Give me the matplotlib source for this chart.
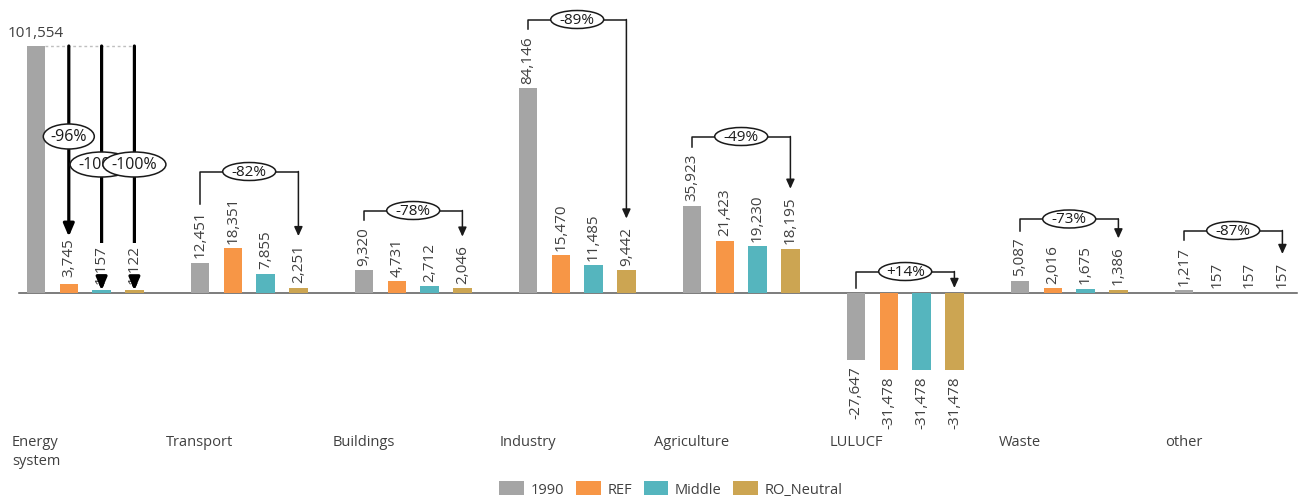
import numpy as np
import matplotlib.pyplot as plt
from matplotlib.patches import Ellipse

plt.rcParams['font.family'] = ['Open Sans', 'DejaVu Sans']

# emissions by sector, 1990 vs 2050 scenarios
categories = ['Energy\nsystem', 'Transport', 'Buildings', 'Industry',
              'Agriculture', 'LULUCF', 'Waste', 'other']
series = ['1990', 'REF', 'Middle', 'RO_Neutral']
v_1990 = [101554, 12451, 9320, 84146, 35923, -27647, 5087, 1217]
v_ref = [3745, 18351, 4731, 15470, 21423, -31478, 2016, 157]
v_middle = [1157, 7855, 2712, 11485, 19230, -31478, 1675, 157]
v_neutral = [1122, 2251, 2046, 9442, 18195, -31478, 1386, 157]
energy_changes = ['-96%', '-100%', '-100%']
sector_changes = ['-82%', '-78%', '-89%', '-49%', '+14%', '-73%', '-87%']

colors = ['#A5A5A5', '#F79646', '#55B5BE', '#CCA552']
txt_col = '#404040'
line_col = '#1a1a1a'

# layout in pixels of the 1299x502 picture
W, H = 1299, 502
zero_px = 294
upp = 101554 / 247.0      # data units per pixel (vertical)
step = 32.8               # pixels per bar slot
x0_px = 36

def py(p):
    return (zero_px - p) * upp

def px(p):
    return (p - x0_px) / step

fig = plt.figure(figsize=(W / 100, H / 100), dpi=100)
ax = fig.add_axes([0, 0, 1, 1])
ax.set_xlim(px(0), px(W))
ax.set_ylim(py(H), py(0))
ax.axis('off')

gap = 5
base = np.arange(len(categories)) * gap
data = [v_1990, v_ref, v_middle, v_neutral]

handles = []
labels = []
for s, vals in enumerate(data):
    b = ax.bar(base + s, vals, width=0.56, color=colors[s], zorder=2)
    handles.append(b)
    row = []
    for g, v in enumerate(vals):
        off = (7.5 if g == 0 and s > 0 else 5.5) * upp
        y = v + off if v >= 0 else v - off
        rot = 0 if (g == 0 and s == 0) else 90
        t = ax.text(base[g] + s, y, f'{v:,}', rotation=rot, ha='center',
                    va='bottom' if v >= 0 else 'top', fontsize=11, color=txt_col,
                    bbox=dict(fc='white', ec='none', pad=0.3), zorder=3)
        row.append(t)
    labels.append(row)

ax.plot([px(19), px(1297)], [0, 0], color='#595959', lw=1.1, zorder=1)

for g, name in enumerate(categories):
    ax.text(base[g], py(435), name, ha='center', va='top', multialignment='left',
            fontsize=10.5, color=txt_col, linespacing=1.35)

fig.legend([h for h in handles], series, loc='center',
           bbox_to_anchor=(671 / W, 1 - 490 / H), ncol=4, frameon=False,
           fontsize=10.5, handlelength=1.7, handleheight=1.15,
           handletextpad=0.45, columnspacing=0.8, labelcolor=txt_col)

fig.canvas.draw()
rend = fig.canvas.get_renderer()
inv = ax.transData.inverted()

def top_of(t):
    bb = t.get_window_extent(rend)
    return inv.transform((0, bb.y1))[1]

# energy system: thick arrows from the 1990 level
e_top = v_1990[0]
ax.plot([0.28, 3], [e_top, e_top], color='#BFBFBF', lw=1, ls=(0, (2, 2)), zorder=1)
thick = dict(arrowstyle='-|>,head_length=0.75,head_width=0.32', lw=2.3,
             color='black', shrinkA=0, shrinkB=0, mutation_scale=10)
tip = top_of(labels[1][0]) + 1 * upp
ax.annotate('', xy=(1, tip), xytext=(1, e_top), arrowprops=thick, zorder=2)
for s in (2, 3):
    v = data[s][0]
    ax.annotate('', xy=(s, v), xytext=(s, e_top), arrowprops=thick, zorder=2)
    ax.annotate('', xy=(s, v), xytext=(s, v + 10 * upp), arrowprops=thick, zorder=4)

e_ell = [(137.5, 51), (165.5, 63), (165.5, 63)]
for s, (ypx, wpx) in enumerate(e_ell):
    ax.add_patch(Ellipse((s + 1, py(ypx)), wpx / step, 25 * upp, fc='white',
                         ec=line_col, lw=1.1, zorder=5 + 2 * s))
    ax.text(s + 1, py(ypx), energy_changes[s], ha='center', va='center',
            fontsize=11.5, color=line_col, zorder=6 + 2 * s)

# other sectors: bracket from 1990 to RO_Neutral
bracket_px = [172.5, 211.5, 20.5, 137.5, 272.5, 220, 231.5]
thin = dict(arrowstyle='-|>,head_length=0.55,head_width=0.25', lw=1.1,
            color=line_col, shrinkA=0, shrinkB=0, mutation_scale=10)
for i, g in enumerate(range(1, len(categories))):
    xl, xr = base[g], base[g] + 3
    yb = py(bracket_px[i])
    if v_1990[g] >= 0:
        yl = top_of(labels[0][g]) + 6 * upp
    else:
        yl = 5 * upp
    if v_neutral[g] >= 0:
        yr = top_of(labels[3][g]) + 7 * upp
    else:
        yr = 5 * upp
    ax.plot([xl, xl, xr], [yl, yb, yb], color=line_col, lw=1.1, zorder=4)
    ax.annotate('', xy=(xr, yr), xytext=(xr, yb), arrowprops=thin, zorder=4)
    ax.add_patch(Ellipse((base[g] + 1.5, yb), 53 / step, 18 * upp, fc='white',
                         ec=line_col, lw=1.1, zorder=5))
    ax.text(base[g] + 1.5, yb, sector_changes[i], ha='center', va='center',
            fontsize=11, color=line_col, zorder=6)

fig.savefig('out.png', dpi=100)
